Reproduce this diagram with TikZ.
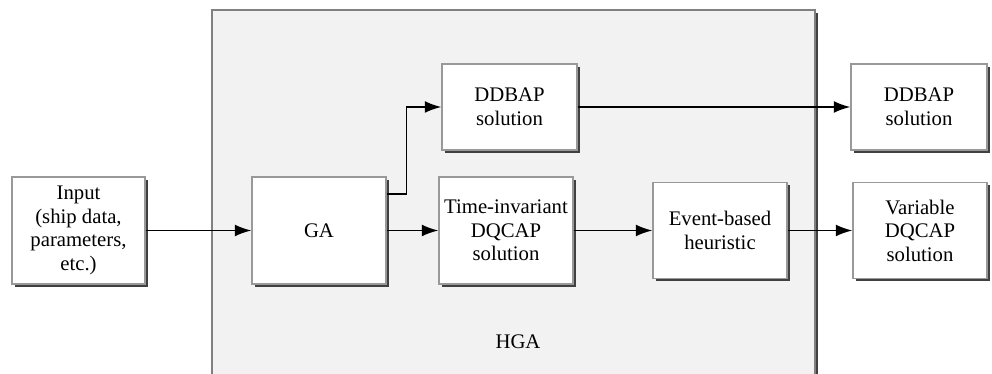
\documentclass[tikz,border=0pt]{standalone}
\usepackage{fontspec}
\setmainfont{Liberation Serif}
\usetikzlibrary{shadows,arrows.meta,calc}
\tikzset{
  blk/.style={draw=gray!80,fill=white,line width=0.6pt,inner sep=0pt,align=center,
    drop shadow={shadow xshift=1.7pt,shadow yshift=-1.7pt,fill=black!75,opacity=1},
    font=\fontsize{11.8}{13.4}\selectfont},
  sz/.style 2 args={minimum width=#1*0.02cm,minimum height=#2*0.02cm},
  arr/.style={line width=1.1pt,-{Latex[length=9.5pt,width=6.8pt]}}
}
\begin{document}
\begin{tikzpicture}[x=0.02cm,y=0.02cm]
      \clip (0,0) rectangle (992,374);
      \useasboundingbox (0,0) rectangle (992,374);
      % HGA frame
      \draw[draw=gray,fill=black!5,line width=0.8pt,
        drop shadow={shadow xshift=1.7pt,shadow yshift=-1.7pt,fill=black!75,opacity=1}]
        (212,364) rectangle (815,-20);
      \node[font=\fontsize{11.8}{13.4}\selectfont] (hga) at (518,32) {HGA};
      % blocks
      \node[blk,sz={133}{107}] (input) at (78.5,143.5) {Input\\(ship data,\\parameters,\\etc.)};
      \node[blk,sz={134}{107}] (ga) at (319,143.5) {GA};
      \node[blk,sz={135}{86}] (ddbap) at (509.5,267) {DDBAP\\solution};
      \node[blk,sz={134}{107}] (tidq) at (506,143.5) {Time-invariant\\DQCAP\\solution};
      \node[blk,sz={134}{96}] (event) at (720,143.5) {Event-based\\heuristic};
      \node[blk,sz={136}{86}] (ddbapout) at (919,267) {DDBAP\\solution};
      \node[blk,sz={134}{96}] (vardq) at (920,143.5) {Variable\\DQCAP\\solution};
      % connectors
      \draw[arr] (input) -- (ga);
      \draw[arr] ($(ga.east)+(0,36.5)$) -- ++(20,0) |- (ddbap.west);
      \draw[arr] (ga) -- (tidq);
      \draw[arr] (ddbap) -- (ddbapout);
      \draw[arr] (tidq) -- (event);
      \draw[arr] (event) -- (vardq);
    \end{tikzpicture}
\end{document}
